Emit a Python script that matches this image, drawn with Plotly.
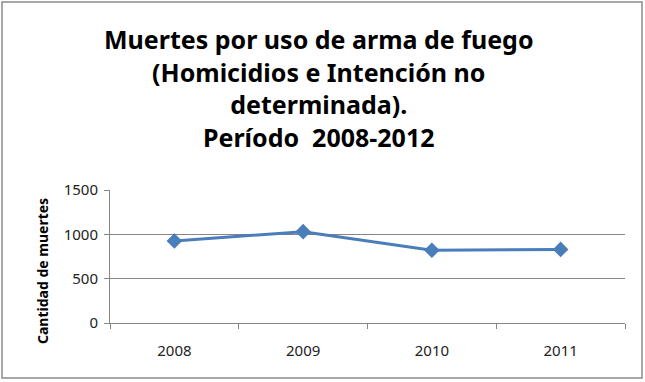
import plotly.graph_objects as go

years = ["2008", "2009", "2010", "2011"]
deaths = [925, 1030, 820, 830]
y_ticks = [0, 500, 1000, 1500]
y_title = "Cantidad de muertes"
title_lines = ["Muertes por uso de arma de fuego",
               "(Homicidios e Intención no",
               "determinada).",
               "Período  2008-2012"]

W, H = 645, 382
L, R, T, B = 110, 20, 190, 59
pw, ph = W - L - R, H - T - B

fig = go.Figure(go.Scatter(
    x=years, y=deaths, mode="lines+markers",
    line=dict(color="#4a7ebb", width=3),
    marker=dict(symbol="diamond", size=12, color="#4a7ebb"),
))

fig.add_annotation(text="<b>" + "<br>".join(title_lines) + "</b>",
                   xref="paper", yref="paper",
                   x=(319 - L) / pw, y=(H - B - 88) / ph,
                   showarrow=False, align="center",
                   font=dict(family="Noto Sans", size=25, color="#000000"),
                   xanchor="center", yanchor="middle")

fig.add_annotation(text="<b>%s</b>" % y_title, xref="paper", yref="paper",
                   x=(42 - L) / pw, y=(H - B - 271) / ph, textangle=-90,
                   showarrow=False, font=dict(family="Noto Sans", size=14, color="#000000"),
                   xanchor="center", yanchor="middle")

fig.add_shape(type="rect", xref="paper", yref="paper",
              x0=(2 - L) / pw, x1=(642 - L) / pw,
              y0=(H - B - 378) / ph, y1=(H - B - 2) / ph,
              line=dict(color="#8c8c8c", width=1.5))

fig.update_layout(
    width=W, height=H, margin=dict(l=L, r=R, t=T, b=B),
    paper_bgcolor="white", plot_bgcolor="white", showlegend=False,
    font=dict(family="Noto Sans", size=15, color="#222222"),
    xaxis=dict(type="category", showgrid=False, showline=True, linecolor="#868686",
               ticks="outside", tickson="boundaries", ticklen=5, tickcolor="#868686",
               tickfont=dict(size=15), range=[-0.5, 3.5], ticklabelstandoff=14),
    yaxis=dict(range=[0, 1500], tickvals=y_ticks, showgrid=True, gridcolor="#868686",
               showline=True, linecolor="#868686", ticks="outside", ticklen=5,
               tickcolor="#868686", tickfont=dict(size=15), zeroline=False,
               ticklabelstandoff=3),
)

fig.write_html("out.html", config={"displayModeBar": False},
               post_script="document.body.style.margin='0';")
